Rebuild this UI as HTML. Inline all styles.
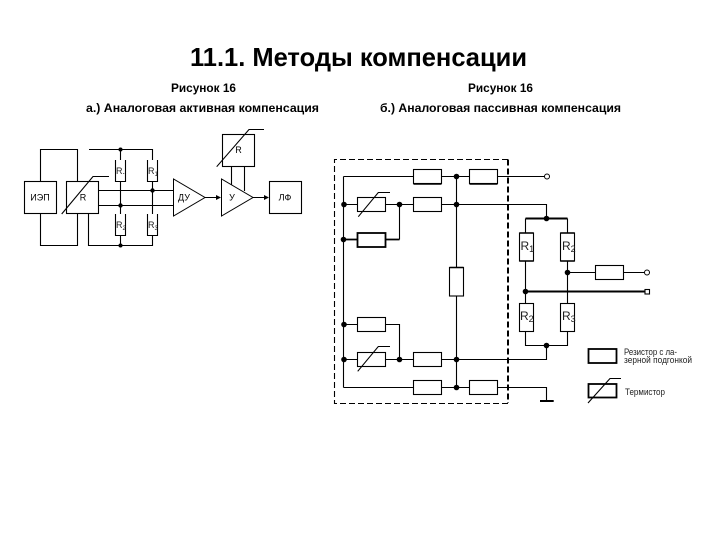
<!DOCTYPE html>
<html><head><meta charset="utf-8"><style>
html,body{margin:0;padding:0;background:#fff}
svg{display:block}
text{font-family:"Liberation Sans",sans-serif;fill:#000}
.t{font-weight:bold;font-size:11.5px}
.s{font-size:9px;fill:#222}
.n{font-size:9px;text-anchor:middle}
.r{font-size:12px;fill:#222}
rect{fill:#fff;stroke:#000;stroke-width:1.1}
path{stroke-width:1.1}
</style></head><body>
<svg width="720" height="540" viewBox="0 0 720 540" xmlns="http://www.w3.org/2000/svg">
<rect x="0" y="0" width="720" height="540" style="stroke:none"/>
<text x="190" y="66" font-size="26" font-weight="bold" textLength="337" lengthAdjust="spacingAndGlyphs">11.1. Методы компенсации</text>
<text class="t" x="171" y="92" textLength="65" lengthAdjust="spacingAndGlyphs">Рисунок 16</text>
<text class="t" x="86" y="112" textLength="233" lengthAdjust="spacingAndGlyphs">а.) Аналоговая активная компенсация</text>
<text class="t" x="468" y="92" textLength="65" lengthAdjust="spacingAndGlyphs">Рисунок 16</text>
<text class="t" x="380" y="112" textLength="241" lengthAdjust="spacingAndGlyphs">б.) Аналоговая пассивная компенсация</text>

<!-- left diagram -->
<g fill="none" stroke="#000">
<path d="M40.5 181V149.5H77.5V181M40.5 213V245.5H77.5V213M88.5 213V245.5H152.5V235M89 149.5H152.5V160M120.5 149.5V245.5M152.5 181V214M98.7 190.5H173M98.7 205.5H173"/>
<path d="M231.5 166V186M244.5 166V191M205 197.5H216M253 197.5H264"/>
</g>
<rect x="24.5" y="181.5" width="32" height="32"/>
<rect x="66.5" y="181.5" width="32" height="32"/>
<rect x="269.5" y="181.5" width="32" height="32"/>
<rect x="222.5" y="134.5" width="32" height="32"/>
<path d="M115.5 160V181.5H125.5V160Z" fill="#fff" stroke="none"/>
<path d="M147.5 160V181.5H157.5V160Z" fill="#fff" stroke="none"/>
<path d="M115.5 214V235.5H125.5V214Z" fill="#fff" stroke="none"/>
<path d="M147.5 214V235.5H157.5V214Z" fill="#fff" stroke="none"/>
<path d="M115.5 160V181.5H125.5V160M147.5 160V181.5H157.5V160M115.5 214V235.5H125.5V214M147.5 214V235.5H157.5V214" fill="none" stroke="#000"/>
<path d="M61.7 214L93 176.5H109M216.7 166.7L249 129.5H264" fill="none" stroke="#000"/>
<polygon points="173.5,179 173.5,216 205,197.5" fill="#fff" stroke="#000"/>
<polygon points="221.5,179 221.5,216 253,197.5" fill="#fff" stroke="#000"/>
<polygon points="216,195 221,197.5 216,200" fill="#000"/>
<polygon points="264,195 269,197.5 264,200" fill="#000"/>
<g fill="#000"><circle cx="120.5" cy="149.5" r="2"/><circle cx="152.5" cy="190.5" r="2.2"/><circle cx="120.5" cy="205.5" r="2.2"/><circle cx="120.5" cy="245.5" r="2"/></g>
<text class="n" x="40" y="200.5">ИЭП</text>
<text class="n" x="83" y="200.5">R</text>
<text class="n" x="238.5" y="153">R</text>
<text class="n" x="184" y="200.5">ДУ</text>
<text class="n" x="232" y="200.5">У</text>
<text class="n" x="285" y="200.5">ЛФ</text>
<text class="s" x="116" y="174" font-size="8">R.</text>
<text class="s" x="148" y="174">R<tspan font-size="6" dy="2">1</tspan></text>
<text class="s" x="116" y="228">R<tspan font-size="6" dy="2">2</tspan></text>
<text class="s" x="148" y="228">R<tspan font-size="6" dy="2">3</tspan></text>

<!-- dashed frame -->
<path d="M508 159.5H334.5V403.5H508" fill="none" stroke="#000" stroke-dasharray="6 3"/>
<path d="M508 159.5V403" fill="none" stroke="#000" style="stroke-width:2" stroke-dasharray="6 3"/>

<!-- right diagram -->
<g fill="none" stroke="#000">
<path d="M343.5 176.5V387.5M343.5 176.5H545M343.5 204.5H546.5V218.5M456.5 176.5V387.5M343.5 324.5H399.5V359.5M343.5 359.5H546.5V345.5M343.5 387.5H546.5V400.5"/>
<path d="M399.5 204.5V239.5"/>
<path d="M525.5 218.5V345.5H567.5V218.5M567.5 272.5H645"/>
</g>
<path d="M343.5 239.5H399.5" stroke="#000" style="stroke-width:1.7" fill="none"/>
<path d="M525.5 218.5H567.5M525.5 291.5H645M540 401H553.7" stroke="#000" style="stroke-width:2" fill="none"/>

<rect x="413.5" y="169.5" width="28" height="14"/><path d="M413.5 184H441.5" stroke="#000" style="stroke-width:1.5"/>
<rect x="469.5" y="169.5" width="28" height="14"/><path d="M469.5 184H497.5" stroke="#000" style="stroke-width:1.5"/>
<rect x="357.5" y="197.5" width="28" height="14"/>
<rect x="413.5" y="197.5" width="28" height="14"/>
<rect x="357.5" y="233" width="28" height="14" style="stroke-width:1.8"/>
<rect x="449.5" y="267.5" width="14" height="28.5"/><path d="M449.5 267.5H463.5" stroke="#000" style="stroke-width:1.5"/>
<rect x="357.5" y="317.5" width="28" height="14"/>
<rect x="357.5" y="352.5" width="28" height="14"/>
<rect x="413.5" y="352.5" width="28" height="14"/>
<rect x="413.5" y="380.5" width="28" height="14"/>
<rect x="469.5" y="380.5" width="28" height="14"/>
<rect x="595.5" y="265.5" width="28" height="14"/>
<rect x="519.5" y="233" width="14" height="28"/><path d="M519.5 233H533.5M519.5 261H533.5" stroke="#000" style="stroke-width:1.5"/>
<rect x="560.5" y="233" width="14" height="28"/><path d="M560.5 233H574.5M560.5 261H574.5" stroke="#000" style="stroke-width:1.5"/>
<rect x="519.5" y="303.5" width="14" height="28"/>
<rect x="560.5" y="303.5" width="14" height="28"/>
<path d="M358.3 216.7L378.3 192.5H390M357.7 371.3L378.3 346.5H390" fill="none" stroke="#000"/>

<g fill="#000">
<circle cx="456.5" cy="176.5" r="2.8"/><circle cx="344" cy="204.5" r="2.8"/><circle cx="399.5" cy="204.5" r="2.8"/><circle cx="456.5" cy="204.5" r="2.8"/>
<circle cx="343.5" cy="239.5" r="2.8"/><circle cx="344" cy="324.5" r="2.8"/><circle cx="344" cy="359.5" r="2.8"/><circle cx="399.5" cy="359.5" r="2.8"/>
<circle cx="456.5" cy="359.5" r="2.8"/><circle cx="456.5" cy="387.5" r="2.8"/><circle cx="546.5" cy="218.5" r="2.8"/><circle cx="567.5" cy="272.5" r="2.8"/>
<circle cx="525.5" cy="291.5" r="2.8"/><circle cx="546.5" cy="345.5" r="2.8"/>
</g>
<circle cx="547" cy="176.5" r="2.5" fill="#fff" stroke="#000"/>
<circle cx="647" cy="272.5" r="2.5" fill="#fff" stroke="#000"/>
<rect x="645" y="289.5" width="4.5" height="4.5"/>

<text class="r" x="520.5" y="250">R<tspan font-size="9" dy="2">1</tspan></text>
<text class="r" x="562" y="250">R<tspan font-size="9" dy="2">2</tspan></text>
<text class="r" x="520" y="320">R<tspan font-size="9" dy="2">2</tspan></text>
<text class="r" x="562" y="320">R<tspan font-size="9" dy="2">3</tspan></text>

<!-- legend -->
<rect x="588.5" y="349" width="28" height="14" style="stroke-width:1.8"/>
<rect x="588.5" y="384" width="28" height="13.5" style="stroke-width:1.8"/>
<path d="M588 403L610 378.5H621" fill="none" stroke="#000"/>
<text class="s" x="624" y="355" font-size="8" textLength="53" lengthAdjust="spacingAndGlyphs">Резистор с ла-</text>
<text class="s" x="624" y="363" font-size="8" textLength="68" lengthAdjust="spacingAndGlyphs">зерной подгонкой</text>
<text class="s" x="625" y="395" font-size="8" textLength="40" lengthAdjust="spacingAndGlyphs">Термистор</text>
</svg>
</body></html>
